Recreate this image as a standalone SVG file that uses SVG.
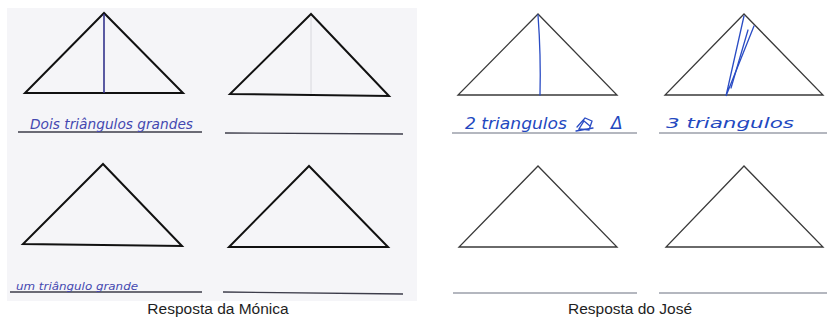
<svg xmlns="http://www.w3.org/2000/svg" width="828" height="320" viewBox="0 0 828 320">
<style>
.tm{fill:none;stroke:#111;stroke-width:2;stroke-linejoin:miter}
.tj{fill:none;stroke:#3a3a3a;stroke-width:1.3}
.lm{stroke:#3c3c4a;stroke-width:1.4}
.lj{stroke:#6a7080;stroke-width:1.2}
.hm{font-family:"DejaVu Sans",sans-serif;font-style:italic;fill:#4448b0}
.hj{font-family:"DejaVu Sans",sans-serif;font-style:italic;fill:#2348c0}
.cap{font-family:"Liberation Sans",Arial,sans-serif;font-size:15.5px;fill:#1e1e1e;text-anchor:middle}
.blue{fill:none;stroke:#2a4cc4;stroke-width:1.3;stroke-linecap:round}
</style>
<rect width="828" height="320" fill="#ffffff"/>
<g id="monica">
<rect x="7" y="8" width="410" height="293" fill="#f5f5f8"/>
<g id="m-tri1">
<polygon class="tm" points="104,13 25,93 183,93"/>
<line x1="104" y1="14" x2="104" y2="93" stroke="#34348c" stroke-width="1.6"/>
</g>
<g id="m-tri2">
<polygon class="tm" points="311,14 230,94 389,96"/>
<line x1="311" y1="16" x2="311" y2="94" stroke="#d0d0d6" stroke-width="0.8"/>
</g>
<g id="m-tri3"><polygon class="tm" points="103,164 23,244 182,246"/></g>
<g id="m-tri4"><polygon class="tm" points="309,166 229,247 388,247"/></g>
<g id="m-lines">
<line class="lm" x1="18" y1="132" x2="202" y2="132"/>
<line class="lm" x1="225" y1="133" x2="403" y2="134"/>
<line class="lm" x1="10" y1="292" x2="202" y2="292"/>
<line class="lm" x1="223" y1="292" x2="403" y2="294"/>
</g>
<text class="hm" x="30" y="129" font-size="14" textLength="163" lengthAdjust="spacingAndGlyphs">Dois triângulos grandes</text>
<text class="hm" x="16" y="290" font-size="11" textLength="122" lengthAdjust="spacingAndGlyphs">um triângulo grande</text>
<text class="cap" x="218" y="314">Resposta da Mónica</text>
</g>
<g id="jose">
<g id="j-tri1">
<polygon class="tj" points="538,14 458,95 617,95"/>
<path class="blue" d="M538,15 Q541,55 540,95"/>
</g>
<g id="j-tri2">
<polygon class="tj" points="744,14 665,95 823,95"/>
<path class="blue" d="M744,16 L726,96 L754,26" stroke-width="1.1"/>
<path class="blue" d="M748,30 L731,88" stroke-width="0.9"/>
</g>
<g id="j-tri3"><polygon class="tj" points="538,166 459,247 617,247"/></g>
<g id="j-tri4"><polygon class="tj" points="744,166 666,247 823,247"/></g>
<g id="j-lines">
<line class="lj" x1="452" y1="133" x2="637" y2="133"/>
<line class="lj" x1="659" y1="133" x2="827" y2="133"/>
<line class="lj" x1="453" y1="293" x2="637" y2="293"/>
<line class="lj" x1="659" y1="293" x2="827" y2="293"/>
</g>
<text class="hj" x="465" y="129" font-size="15" textLength="102" lengthAdjust="spacingAndGlyphs">2 triangulos</text>
<path class="blue" d="M577,127 L585,118 L592,121 L589,130 L579,129 L584,121 L590,126 M576,131 L593,128" stroke-width="1.4"/>
<text class="hj" x="611" y="129" font-size="17" font-style="normal">Δ</text>
<text class="hj" x="666" y="128" font-size="14" textLength="128" lengthAdjust="spacingAndGlyphs">3 triangulos</text>
<text class="cap" x="630" y="314">Resposta do José</text>
</g>
</svg>
